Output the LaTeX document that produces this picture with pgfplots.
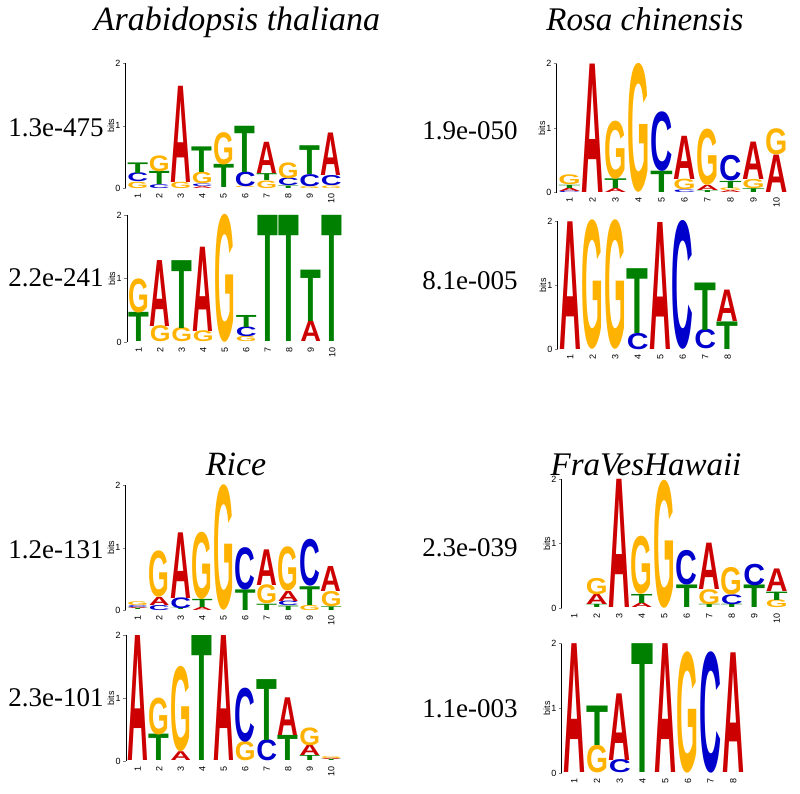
\documentclass[border=0pt]{standalone}
\usepackage{fontspec}
\setmainfont{Liberation Serif}
\setsansfont{Liberation Sans}
\newfontfamily\lfont{Liberation Sans}
\usepackage{graphicx}
\usepackage{pgfplots}
\pgfplotsset{compat=1.18}

\definecolor{lcA}{HTML}{CC0000}
\definecolor{lcC}{HTML}{0000CC}
\definecolor{lcG}{HTML}{FFB300}
\definecolor{lcT}{HTML}{008000}

% letter width and height of one bit, set before each logo
\newdimen\lw
\newdimen\yu
\newcommand\logoletter[2]{\textcolor{lc#1}{\resizebox{\lw}{#2\yu}{\lfont\bfseries #1}}}
\newcommand\tickfont{\fontsize{4.5}{5}\selectfont\sffamily}

\pgfplotsset{
  logo/.style={
    scale only axis, anchor=south west, clip=false,
    xmin=0.45, xmax=#1+0.5, ymin=0, ymax=2,
    axis lines*=left,
    x axis line style={draw=none},
    y axis line style={line width=0.5pt},
    xtick={1,...,#1}, ytick={0,1,2},
    tick align=outside, major tick length=1.5pt,
    x tick style={draw=none},
    /pgf/number format/assume math mode=true,
    xticklabel style={rotate=90, anchor=east, font=\tickfont, inner sep=1pt},
    yticklabel style={font=\tickfont, inner sep=1pt},
    ylabel={bits},
    every axis y label/.style={at={(axis description cs:0,0.5)}, xshift=-7.5pt,
      rotate=90, anchor=center, font=\tickfont},
  },
  letters/.style={
    draw=none, mark=none,
    point meta=explicit symbolic,
    visualization depends on={value \thisrow{h}\as\hh},
    nodes near coords={\logoletter{\pgfplotspointmeta}{\hh}},
    every node near coord/.append style={anchor=south, inner sep=0pt, outer sep=0pt},
  },
}

\begin{document}
\begin{tikzpicture}
\path (0,0) rectangle (400pt,-396.5pt);

% titles and E-values
\node[anchor=base, font=\fontsize{17}{20}\selectfont\itshape] at (118.5pt,-15pt) {Arabidopsis thaliana};
\node[anchor=base, font=\fontsize{16.5}{20}\selectfont\itshape] at (322.5pt,-15pt) {Rosa chinensis};
\node[anchor=base, font=\fontsize{17}{20}\selectfont\itshape] at (118pt,-237.5pt) {Rice};
\node[anchor=base, font=\fontsize{16.5}{20}\selectfont\itshape] at (323pt,-237.5pt) {FraVesHawaii};
\begin{scope}[every node/.style={anchor=west, inner sep=0pt, font=\fontsize{13.5}{15}\selectfont}]
\node at (4pt,-63.5pt) {1.3e-475};
\node at (4pt,-138.5pt) {2.2e-241};
\node at (211pt,-65pt) {1.9e-050};
\node at (211pt,-140pt) {8.1e-005};
\node at (4pt,-274.5pt) {1.2e-131};
\node at (4pt,-348.5pt) {2.3e-101};
\node at (211pt,-273.5pt) {2.3e-039};
\node at (211pt,-354pt) {1.1e-003};
\end{scope}

% Arabidopsis, motif 1
\global\lw=10.4pt \global\yu=31.25pt
\begin{axis}[logo=10, at={(62.95pt,-94pt)}, width=108pt, height=62.5pt]
\addplot[letters] table[x=x, y=b, meta=l] {
x b h l
1 0 0.10 G
1 0.10 0.14 C
1 0.24 0.17 T
2 0 0.06 C
2 0.06 0.21 T
2 0.27 0.25 G
3 0 0.10 G
3 0.10 1.54 A
4 0 0.03 A
4 0.03 0.04 C
4 0.07 0.18 G
4 0.25 0.41 T
5 0.01 0.37 T
5 0.38 0.51 G
6 0 0.02 G
6 0.02 0.23 C
6 0.25 0.74 T
7 0 0.12 G
7 0.12 0.11 T
7 0.23 0.50 A
8 0 0.04 T
8 0.04 0.12 C
8 0.16 0.25 G
9 0 0.03 G
9 0.03 0.19 C
9 0.22 0.46 T
10 0 0.04 G
10 0.04 0.16 C
10 0.20 0.68 A
};
\end{axis}

% Arabidopsis, motif 2
\global\lw=10.4pt \global\yu=31.7pt
\begin{axis}[logo=10, at={(63.5pt,-170.85pt)}, width=108pt, height=63.35pt]
\addplot[letters] table[x=x, y=b, meta=l] {
x b h l
1 0 0.46 T
1 0.46 0.53 G
2 0 0.25 G
2 0.25 1.04 A
3 0 0.22 G
3 0.22 1.07 T
4 0 0.17 G
4 0.17 1.33 A
5 0 1.99 G
6 0 0.08 G
6 0.08 0.15 C
6 0.23 0.19 T
7 0 1.99 T
8 0 1.99 T
9 0 0.32 A
9 0.32 0.81 T
10 0 1.99 T
};
\end{axis}

% Rosa chinensis, motif 1
\global\lw=11.15pt \global\yu=32.25pt
\begin{axis}[logo=10, at={(278.4pt,-96.15pt)}, width=115.6pt, height=64.5pt]
\addplot[letters] table[x=x, y=b, meta=l] {
x b h l
1 0 0.02 C
1 0.02 0.05 A
1 0.07 0.05 T
1 0.12 0.15 G
2 0 1.99 A
3 0 0.06 A
3 0.06 0.15 T
3 0.21 0.89 G
4 0 1.97 G
5 0 0.33 T
5 0.33 0.91 C
6 0 0.04 C
6 0.04 0.16 G
6 0.20 0.67 A
7 0 0.03 T
7 0.03 0.08 A
7 0.11 0.86 G
8 0 0.03 A
8 0.03 0.04 G
8 0.07 0.11 T
8 0.18 0.39 C
9 0 0.06 T
9 0.06 0.14 G
9 0.20 0.58 A
10 0 0.58 A
10 0.58 0.40 G
};
\end{axis}

% Rosa chinensis, motif 2
\global\lw=10.9pt \global\yu=32.08pt
\begin{axis}[logo=8, at={(278.95pt,-174.5pt)}, width=90.56pt, height=64.15pt]
\addplot[letters] table[x=x, y=b, meta=l] {
x b h l
1 0 1.99 A
2 0 1.99 G
3 0 1.99 G
4 0 0.25 C
4 0.25 1.01 T
5 0 1.98 A
6 0 1.98 C
7 0 0.30 C
7 0.30 0.74 T
8 0 0.43 T
8 0.43 0.49 A
};
\end{axis}

% Rice, motif 1
\global\lw=10.4pt \global\yu=31.25pt
\begin{axis}[logo=10, at={(62.95pt,-305pt)}, width=108pt, height=62.5pt]
\addplot[letters] table[x=x, y=b, meta=l] {
x b h l
1 0 0.02 T
1 0.02 0.02 A
1 0.04 0.03 C
1 0.07 0.06 G
2 0 0.08 C
2 0.08 0.13 A
2 0.21 0.73 G
3 0 0.02 T
3 0.02 0.17 C
3 0.19 1.05 A
4 0 0.05 A
4 0.05 0.13 T
4 0.18 1.06 G
5 0 1.98 G
6 0 0.33 T
6 0.33 0.67 C
7 0 0.10 T
7 0.10 0.30 G
7 0.40 0.57 A
8 0 0.07 T
8 0.07 0.07 C
8 0.14 0.16 A
8 0.30 0.70 G
9 0 0.08 G
9 0.08 0.30 T
9 0.38 0.74 C
10 0 0.06 T
10 0.06 0.24 G
10 0.30 0.40 A
};
\end{axis}

% Rice, motif 2
\global\lw=10.4pt \global\yu=31.4pt
\begin{axis}[logo=10, at={(63pt,-380.35pt)}, width=108pt, height=62.85pt]
\addplot[letters] table[x=x, y=b, meta=l] {
x b h l
1 0 1.99 A
2 0 0.42 T
2 0.42 0.58 G
3 0 0.14 A
3 0.14 1.34 G
4 0 1.99 T
5 0 1.99 A
6 0 0.30 G
6 0.30 0.85 C
7 0 0.33 C
7 0.33 0.97 T
8 0 0.40 T
8 0.40 0.60 A
9 0 0.08 T
9 0.08 0.17 A
9 0.25 0.28 G
10 0 0.02 T
10 0.02 0.02 A
10 0.04 0.03 G
};
\end{axis}

% FraVesHawaii, motif 1
\global\lw=10.9pt \global\yu=32.2pt
\begin{axis}[logo=10, at={(280.95pt,-303.85pt)}, width=113.06pt, height=64.35pt]
\addplot[letters] table[x=x, y=b, meta=l] {
x b h l
2 0 0.05 T
2 0.05 0.16 A
2 0.21 0.25 G
3 0 1.99 A
4 0 0.07 A
4 0.07 0.14 T
4 0.21 0.89 G
5 0 1.96 G
6 0 0.35 T
6 0.35 0.53 C
7 0 0.05 T
7 0.05 0.23 G
7 0.28 0.72 A
8 0 0.05 T
8 0.05 0.15 C
8 0.20 0.42 G
9 0 0.35 T
9 0.35 0.33 C
10 0 0.12 G
10 0.12 0.13 T
10 0.25 0.35 A
};
\end{axis}

% FraVesHawaii, motif 2
\global\lw=11pt \global\yu=32.35pt
\begin{axis}[logo=8, at={(280.95pt,-386.35pt)}, width=91.4pt, height=64.7pt]
\addplot[letters] table[x=x, y=b, meta=l] {
x b h l
1 0 1.99 A
2 0 0.42 G
2 0.42 0.61 T
3 0 0.20 C
3 0.20 1.03 A
4 0 1.99 T
5 0 1.99 A
6 0 1.85 G
7 0 1.85 C
8 0 1.85 A
};
\end{axis}
\end{tikzpicture}
\end{document}
